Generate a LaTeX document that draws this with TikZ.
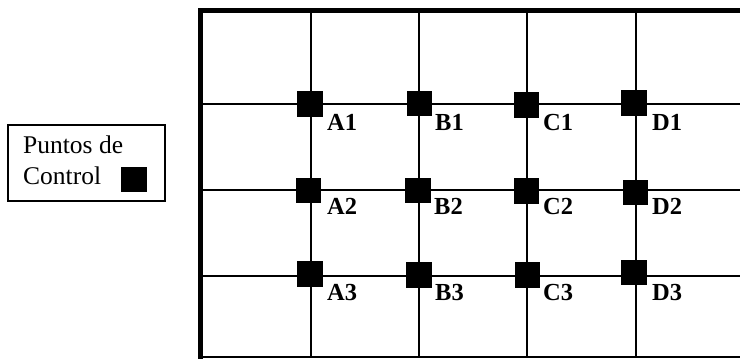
\documentclass[tikz,border=0pt]{standalone}
\usepackage{fontspec}
\setmainfont{Liberation Serif}
\begin{document}
\begin{tikzpicture}[x=1pt,y=-1pt,
  thinline/.style={line width=2pt,black},
  thickline/.style={line width=5pt,black},
  ctrlpt/.style={draw=none,fill=black,minimum width=25.5pt,minimum height=25.5pt,inner sep=0pt,outer sep=0pt},
  ptlabel/.style={anchor=base west,inner sep=0pt,font=\fontsize{24.5}{24.5}\selectfont\bfseries},
  legendtext/.style={anchor=base west,inner sep=0pt,font=\fontsize{25.5}{25.5}\selectfont}]
\useasboundingbox (0,0) rectangle (740,360);
% grid
\foreach \y in {104,190,276}{\draw[thinline] (200,\y) -- (740,\y);}
\foreach \x in {311,419,527,636}{\draw[thinline] (\x,10) -- (\x,357);}
\draw[thinline] (200,357) -- (740,357);
\draw[thickline] (200.5,8) -- (200.5,359);
\draw[thickline] (198,10.5) -- (740,10.5);
% control points
\node[ctrlpt] (A1) at (310,104) {};
\node[ctrlpt] (B1) at (419.5,103.5) {};
\node[ctrlpt] (C1) at (526.5,105) {};
\node[ctrlpt] (D1) at (634,103) {};
\node[ctrlpt] (A2) at (308.5,190.5) {};
\node[ctrlpt] (B2) at (418,190.3) {};
\node[ctrlpt] (C2) at (526.7,190.8) {};
\node[ctrlpt] (D2) at (635.5,192.5) {};
\node[ctrlpt] (A3) at (309.8,273.8) {};
\node[ctrlpt] (B3) at (418.8,275) {};
\node[ctrlpt] (C3) at (527.5,275) {};
\node[ctrlpt] (D3) at (634,272.5) {};
% labels
\node[ptlabel] (lA1) at (327,130.5) {A1};
\node[ptlabel] (lB1) at (435,130.5) {B1};
\node[ptlabel] (lC1) at (543,130.5) {C1};
\node[ptlabel] (lD1) at (652,130.5) {D1};
\node[ptlabel] (lA2) at (327,214.5) {A2};
\node[ptlabel] (lB2) at (434,214.5) {B2};
\node[ptlabel] (lC2) at (543,214.5) {C2};
\node[ptlabel] (lD2) at (652,214.5) {D2};
\node[ptlabel] (lA3) at (327,300.5) {A3};
\node[ptlabel] (lB3) at (435,300.5) {B3};
\node[ptlabel] (lC3) at (543,300.5) {C3};
\node[ptlabel] (lD3) at (652,300.5) {D3};
% legend
\draw[line width=1.8pt] (8,125) rectangle (165,201);
\node[legendtext] (leg1) at (23,153) {Puntos de};
\node[legendtext] (leg2) at (23,184.5) {Control};
\node[ctrlpt,minimum width=26pt] (legsq) at (134,179.5) {};
\end{tikzpicture}
\end{document}
